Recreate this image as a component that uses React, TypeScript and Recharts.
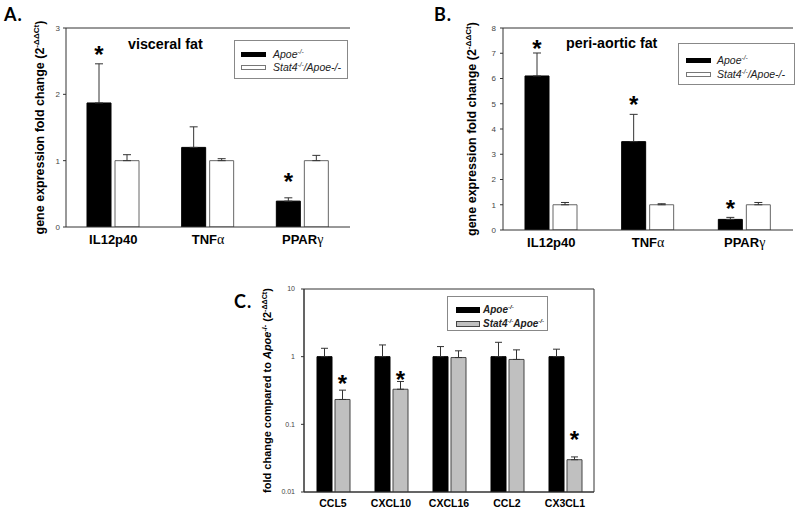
import React from 'react';
import {
  BarChart,
  Bar,
  XAxis,
  YAxis,
  ErrorBar,
  LabelList,
  ReferenceLine,
  ReferenceArea,
  Legend
} from 'recharts';

const FONT = '"Liberation Sans", Arial, Helvetica, sans-serif';

// A. visceral fat
const fatGenes = ['IL12p40', 'TNFα', 'PPARγ'];
const visceralApoe = [1.87, 1.2, 0.39];
const visceralApoeErr = [0.59, 0.31, 0.05];
const visceralStat4 = [1.0, 1.0, 1.0];
const visceralStat4Err = [0.09, 0.03, 0.08];
const visceralStars = [2.68, null, 0.76];
const visceralTicks = [0, 1, 2, 3];

// B. peri-aortic fat
const periApoe = [6.1, 3.5, 0.42];
const periApoeErr = [0.91, 1.08, 0.08];
const periStat4 = [1.0, 1.0, 1.0];
const periStat4Err = [0.09, 0.04, 0.09];
const periStars = [7.38, 5.17, 1.06];
const periTicks = [0, 1, 2, 3, 4, 5, 6, 7, 8];

// C. chemokines (log scale)
const chemokines = ['CCL5', 'CXCL10', 'CXCL16', 'CCL2', 'CX3CL1'];
const chemoApoe = [1, 1, 1, 1, 1];
const chemoApoeErr = [0.33, 0.49, 0.41, 0.63, 0.29];
const chemoStat4 = [0.233, 0.33, 0.97, 0.91, 0.03];
const chemoStat4Err = [0.087, 0.1, 0.25, 0.35, 0.003];
const chemoStars = [0.47, 0.55, null, null, 0.071];
const chemoTicks = [0.01, 0.1, 1, 10];

const buildRows = (
  cats: string[],
  apoe: number[],
  apoeErr: number[],
  stat4: number[],
  stat4Err: number[],
  stars: (number | null)[]
) =>
  cats.map((gene, i) => ({
    gene,
    apoe: apoe[i],
    apoeErr: [0, apoeErr[i]],
    stat4: stat4[i],
    stat4Err: [0, stat4Err[i]],
    star: stars[i]
  }));

const visceralData = buildRows(fatGenes, visceralApoe, visceralApoeErr, visceralStat4, visceralStat4Err, visceralStars);
const periData = buildRows(fatGenes, periApoe, periApoeErr, periStat4, periStat4Err, periStars);
const chemoData = buildRows(chemokines, chemoApoe, chemoApoeErr, chemoStat4, chemoStat4Err, chemoStars);

// asterisk placed at a data level, using the bar's own geometry as the scale
const StarMark = (props: any) => {
  const { index, value, kind, barValues } = props;
  if (value == null) return null;
  const vb = props.viewBox || props;
  const { x, y, width, height } = vb;
  const base = y + height;
  const v = barValues[index];
  const cy =
    kind === 'log'
      ? base - (Math.log10(value / 0.01) / Math.log10(v / 0.01)) * height
      : base - (value / v) * height;
  return (
    <text x={x + width / 2} y={cy + 13.5} textAnchor="middle" fontSize={24} fontWeight="bold" fontFamily={FONT} fill="#000">
      *
    </text>
  );
};

const GeneTick = (props: any) => {
  const { x, y, payload, fontSize } = props;
  const label = String(payload.value);
  const last = label.slice(-1);
  const greek = /[\u0370-\u03ff]/.test(last);
  return (
    <text x={x} y={y} dy="0.71em" textAnchor="middle" fontSize={fontSize} fontWeight="bold" fontFamily={FONT} fill="#000">
      {greek ? label.slice(0, -1) : label}
      {greek && (
        <tspan fontWeight="normal" fontFamily='"Liberation Serif", serif' fontSize={fontSize + 1}>
          {last}
        </tspan>
      )}
    </text>
  );
};

const YTitle = ({ cx, cy, fontSize, children }: any) => (
  <text
    transform={`translate(${cx},${cy}) rotate(-90)`}
    textAnchor="middle"
    fontSize={fontSize}
    fontWeight="bold"
    fontFamily={FONT}
    fill="#000"
  >
    {children}
  </text>
);

const foldTitle = (
  <>
    gene expression fold change (2
    <tspan dy={-5} fontSize="0.65em">-ΔΔCt</tspan>
    <tspan dy={5}>)</tspan>
  </>
);

const sup = (t: string) => (
  <span style={{ fontSize: '0.62em', verticalAlign: 'super', lineHeight: 0 }}>{t}</span>
);

const LegendBox = ({ width, height, rows, swatchX, swatchW, swatchH, textX, fontSize, bold }: any) => (
  <div
    style={{
      position: 'relative',
      boxSizing: 'border-box',
      width,
      height,
      border: '1px solid #888',
      background: '#fff',
      fontFamily: FONT,
      fontSize,
      fontStyle: 'italic',
      fontWeight: bold ? 'bold' : 'normal',
      color: '#222'
    }}
  >
    {rows.map((r: any, i: number) => (
      <React.Fragment key={i}>
        <div
          style={{
            position: 'absolute',
            boxSizing: 'border-box',
            left: swatchX,
            top: r.y - swatchH / 2,
            width: swatchW,
            height: swatchH,
            background: r.fill,
            border: `1px solid ${r.stroke}`
          }}
        />
        <div style={{ position: 'absolute', left: textX, top: r.y - 7, height: 14, lineHeight: '14px', whiteSpace: 'nowrap' }}>
          {r.label}
        </div>
      </React.Fragment>
    ))}
  </div>
);

const fatLegendRows = (y1: number, y2: number) => [
  { y: y1, fill: '#000', stroke: '#000', label: <>Apoe{sup('-/-')}</> },
  { y: y2, fill: '#fff', stroke: '#777', label: <>Stat4{sup('-/-')}/Apoe-/-</> }
];

const chemoLegendRows = [
  { y: 13, fill: '#000', stroke: '#000', label: <>Apoe{sup('-/-')}</> },
  { y: 27, fill: '#c0c0c0', stroke: '#444', label: <>Stat4{sup('-/-')}Apoe{sup('-/-')}</> }
];

const yTick = (size: number) => ({ fontSize: size, fill: '#444', fontFamily: FONT });

const App = () => {
  return (
    <div style={{ position: 'absolute', left: 0, top: 0, width: 800, height: 510, background: '#fff', overflow: 'hidden' }}>
      {/* A. visceral fat */}
      <div style={{ position: 'absolute', left: 0, top: 0 }}>
        <BarChart width={360} height={260} data={visceralData} margin={{ top: 28, right: 10, bottom: 3, left: 0 }} barSize={24} barGap={4}>
          <ReferenceLine y={3} stroke="#333" />
          <XAxis dataKey="gene" height={30} interval={0} axisLine={{ stroke: '#333' }} tickLine={false} tick={<GeneTick fontSize={13} />} />
          <YAxis
            width={66}
            type="number"
            domain={[0, 3]}
            ticks={visceralTicks}
            allowDataOverflow
            tickSize={3}
            tickMargin={3}
            tick={yTick(8)}
            axisLine={{ stroke: '#333' }}
            tickLine={{ stroke: '#333' }}
            label={{ content: () => <YTitle cx={44} cy={127.5} fontSize={12.5}>{foldTitle}</YTitle> }}
          />
          <Bar dataKey="apoe" name="Apoe-/-" fill="#000" stroke="#000" isAnimationActive={false}>
            <ErrorBar dataKey="apoeErr" direction="y" width={4} stroke="#333" strokeWidth={1} />
            <LabelList dataKey="star" content={<StarMark kind="linear" barValues={visceralApoe} />} />
          </Bar>
          <Bar dataKey="stat4" name="Stat4-/-/Apoe-/-" fill="#fff" stroke="#666" isAnimationActive={false}>
            <ErrorBar dataKey="stat4Err" direction="y" width={4} stroke="#333" strokeWidth={1} />
          </Bar>
          <Legend
            layout="horizontal"
            verticalAlign="middle"
            align="center"
            wrapperStyle={{ left: 234, top: 40, width: 114, height: 39 }}
            content={() => (
              <LegendBox width={114} height={39} rows={fatLegendRows(13, 26)} swatchX={6} swatchW={25} swatchH={5} textX={38} fontSize={10.5} />
            )}
          />
        </BarChart>
      </div>

      {/* B. peri-aortic fat */}
      <div style={{ position: 'absolute', left: 440, top: 0 }}>
        <BarChart width={360} height={260} data={periData} margin={{ top: 28, right: 7, bottom: 0, left: 0 }} barSize={24} barGap={4}>
          <ReferenceLine y={8} stroke="#333" />
          <XAxis dataKey="gene" height={30} interval={0} axisLine={{ stroke: '#333' }} tickLine={false} tick={<GeneTick fontSize={13} />} />
          <YAxis
            width={63}
            type="number"
            domain={[0, 8]}
            ticks={periTicks}
            allowDataOverflow
            tickSize={3}
            tickMargin={4}
            tick={yTick(8)}
            axisLine={{ stroke: '#333' }}
            tickLine={{ stroke: '#333' }}
            label={{ content: () => <YTitle cx={36} cy={129} fontSize={12.5}>{foldTitle}</YTitle> }}
          />
          <Bar dataKey="apoe" name="Apoe-/-" fill="#000" stroke="#000" isAnimationActive={false}>
            <ErrorBar dataKey="apoeErr" direction="y" width={4} stroke="#333" strokeWidth={1} />
            <LabelList dataKey="star" content={<StarMark kind="linear" barValues={periApoe} />} />
          </Bar>
          <Bar dataKey="stat4" name="Stat4-/-/Apoe-/-" fill="#fff" stroke="#666" isAnimationActive={false}>
            <ErrorBar dataKey="stat4Err" direction="y" width={4} stroke="#333" strokeWidth={1} />
          </Bar>
          <Legend
            layout="horizontal"
            verticalAlign="middle"
            align="center"
            wrapperStyle={{ left: 238, top: 43, width: 117, height: 42 }}
            content={() => (
              <LegendBox width={117} height={42} rows={fatLegendRows(16, 30)} swatchX={7} swatchW={25} swatchH={5} textX={38} fontSize={10.5} />
            )}
          />
        </BarChart>
      </div>

      {/* C. chemokines */}
      <div style={{ position: 'absolute', left: 230, top: 270 }}>
        <BarChart width={370} height={240} data={chemoData} margin={{ top: 19, right: 6, bottom: 0, left: 0 }} barSize={15} barGap={3}>
          <ReferenceArea y1={0.01} y2={10} fill="none" stroke="#333" strokeWidth={1} />
          <XAxis dataKey="gene" height={18} interval={0} axisLine={{ stroke: '#333' }} tickLine={false} tick={<GeneTick fontSize={10.5} />} />
          <YAxis
            width={74}
            type="number"
            scale="log"
            domain={[0.01, 10]}
            ticks={chemoTicks}
            allowDataOverflow
            tickFormatter={(v: number) => String(v)}
            tickSize={3}
            tickMargin={6}
            tick={yTick(7)}
            axisLine={{ stroke: '#333' }}
            tickLine={{ stroke: '#333' }}
            label={{
              content: () => (
                <YTitle cx={41} cy={120.5} fontSize={11}>
                  fold change compared to <tspan fontStyle="italic">Apoe</tspan>
                  <tspan dy={-4} fontSize="0.65em">-/-</tspan>
                  <tspan dy={4}> (2</tspan>
                  <tspan dy={-4} fontSize="0.65em">-ΔΔCt</tspan>
                  <tspan dy={4}>)</tspan>
                </YTitle>
              )
            }}
          />
          <Bar dataKey="apoe" name="Apoe-/-" fill="#000" stroke="#000" isAnimationActive={false}>
            <ErrorBar dataKey="apoeErr" direction="y" width={3.5} stroke="#333" strokeWidth={1} />
          </Bar>
          <Bar dataKey="stat4" name="Stat4-/-Apoe-/-" fill="#c0c0c0" stroke="#444" isAnimationActive={false}>
            <ErrorBar dataKey="stat4Err" direction="y" width={3.5} stroke="#333" strokeWidth={1} />
            <LabelList dataKey="star" content={<StarMark kind="log" barValues={chemoStat4} />} />
          </Bar>
          <Legend
            layout="horizontal"
            verticalAlign="middle"
            align="center"
            wrapperStyle={{ left: 217, top: 26, width: 101, height: 35 }}
            content={() => (
              <LegendBox width={101} height={35} rows={chemoLegendRows} swatchX={8} swatchW={24} swatchH={6} textX={35} fontSize={10} bold />
            )}
          />
        </BarChart>
      </div>

      {/* panel letters and titles */}
      <svg width={800} height={510} style={{ position: 'absolute', left: 0, top: 0, pointerEvents: 'none' }}>
        <g fontFamily='Lato, "Open Sans", sans-serif' fontWeight="bold" fontSize={18} fill="#000">
          <text x={4} y={21} letterSpacing={1}>A.</text>
          <text x={434} y={21} letterSpacing={1}>B.</text>
          <text x={234} y={308} letterSpacing={1}>C.</text>
        </g>
        <g fontFamily={FONT} fontWeight="bold" fontSize={14.3} fill="#000">
          <text x={128} y={49}>visceral fat</text>
          <text x={566} y={48}>peri-aortic fat</text>
        </g>
      </svg>
    </div>
  );
};

export default App;
